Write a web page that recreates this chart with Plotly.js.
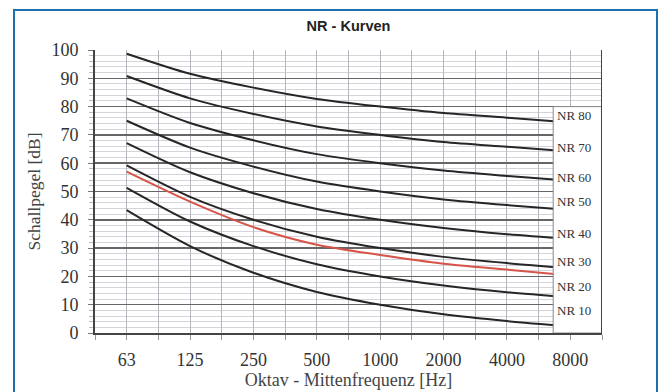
<!DOCTYPE html>
<html>
<head>
<meta charset="utf-8">
<script src="https://cdn.plot.ly/plotly-3.0.1.min.js"></script>
<style>html,body{margin:0;padding:0;background:#fff;}#chart{width:662px;height:392px;}</style>
</head>
<body>
<div id="chart"></div>
<script>
// Octave-band centre frequencies (Hz)
const freqLabels = ['63', '125', '250', '500', '1000', '2000', '4000', '8000'];
// NR curves (dB) at 63..8000 Hz
const nr10 = [43.4, 30.7, 21.3, 14.5, 10.0, 6.6, 4.2, 2.3];
const nr20 = [51.3, 39.4, 30.7, 24.3, 20.0, 16.8, 14.4, 12.6];
const nr30 = [59.2, 48.1, 40.0, 34.0, 30.0, 26.9, 24.7, 22.9];
const nr40 = [67.1, 56.8, 49.4, 43.8, 40.0, 37.1, 34.9, 33.2];
const nr50 = [75.0, 65.5, 58.8, 53.5, 50.0, 47.2, 45.2, 43.5];
const nr60 = [82.9, 74.2, 68.1, 63.2, 60.0, 57.4, 55.5, 53.8];
const nr70 = [90.8, 82.9, 77.4, 73.0, 70.0, 67.5, 65.8, 64.1];
const nr80 = [98.7, 91.6, 86.7, 82.7, 80.0, 77.7, 76.1, 74.4];
// Red (measured) curve
const redCurve = [57.0, 46.4, 37.4, 31.2, 27.6, 24.5, 22.4, 20.3];
const curveNames = ['NR 10', 'NR 20', 'NR 30', 'NR 40', 'NR 50', 'NR 60', 'NR 70', 'NR 80'];
const curves = [nr10, nr20, nr30, nr40, nr50, nr60, nr70, nr80];

const xIdx = freqLabels.map((_, i) => i);

const traces = curves.map((c, i) => ({
  x: xIdx, y: c, type: 'scatter', mode: 'lines', name: curveNames[i],
  line: {color: '#262626', width: 2, shape: 'spline', smoothing: 0.8},
  hoverinfo: 'skip', showlegend: false
}));
traces.push({
  x: xIdx, y: redCurve, type: 'scatter', mode: 'lines', name: 'Messung',
  line: {color: 'rgb(214,84,72)', width: 2, shape: 'spline', smoothing: 0.8},
  hoverinfo: 'skip', showlegend: false
});

// x grid every half octave
const xTickVals = [];
const xTickText = [];
for (let v = -0.5; v <= 7.5001; v += 0.5) {
  xTickVals.push(v);
  const k = Math.round(v);
  xTickText.push(Math.abs(v - k) < 1e-6 ? freqLabels[k] : '');
}

// label placement (layout only)
const labelPos = [7.8, 16.3, 25.4, 35.3, 46.3, 54.8, 65.7, 77.0];
const serif = '"Liberation Serif", "Times New Roman", serif';

const annotations = curveNames.map((n, i) => ({
  x: 6.76, y: labelPos[i], xref: 'x', yref: 'y', text: n, showarrow: false,
  xanchor: 'left', yanchor: 'middle',
  font: {family: serif, size: 13, color: '#333'}
}));

const layout = {
  width: 662, height: 392,
  margin: {l: 95, r: 60, t: 50, b: 59},
  paper_bgcolor: '#fff', plot_bgcolor: '#fff',
  title: {
    text: 'NR - Kurven', x: 0.5, xref: 'paper', y: 1, yref: 'container', yanchor: 'top', pad: {t: 21},
    font: {family: '"Liberation Sans", Arial, sans-serif', size: 14.5, color: '#222', weight: 'bold'}
  },
  xaxis: {
    range: [-0.5, 7.5], tickmode: 'array', tickvals: xTickVals, ticktext: xTickText,
    showgrid: true, gridcolor: '#b5b5bd', gridwidth: 1,
    zeroline: false, showline: true, linecolor: '#444', linewidth: 2,
    ticks: 'outside', ticklen: 5, tickcolor: '#999', tickwidth: 1,
    ticklabelstandoff: 4,
    tickfont: {family: serif, size: 18, color: '#333'},
    title: {text: 'Oktav - Mittenfrequenz [Hz]', standoff: 1, font: {family: serif, size: 18, color: '#444'}},
    fixedrange: true
  },
  yaxis: {
    range: [0, 100], dtick: 10, tick0: 0,
    showgrid: true, gridcolor: '#666', gridwidth: 1.5,
    minor: {dtick: 2, showgrid: true, gridcolor: '#d4d4da', gridwidth: 1, ticks: 'outside', ticklen: 4, tickcolor: '#bbb'},
    zeroline: false, showline: true, linecolor: '#444', linewidth: 2,
    ticks: 'outside', ticklen: 5, tickcolor: '#777',
    ticklabelstandoff: 6,
    tickfont: {family: serif, size: 18, color: '#333'},
    title: {text: 'Schallpegel [dB]', standoff: 6, font: {family: serif, size: 17.5, color: '#444'}},
    fixedrange: true
  },
  shapes: [
    // label box covering the ends of the curves
    {type: 'rect', xref: 'x', yref: 'y', x0: 6.73, x1: 7.5, y0: 0, y1: 80,
     fillcolor: '#fff', line: {color: '#888', width: 1}, layer: 'above'},
    // right border of plot
    {type: 'line', xref: 'x', yref: 'y', x0: 7.5, x1: 7.5, y0: 0, y1: 100,
     line: {color: '#444', width: 2}, layer: 'above'},
    // outer blue frame
    {type: 'rect', xref: 'paper', yref: 'paper',
     x0: (14 - 95) / 507, x1: (657 - 95) / 507, y0: (333 - 400) / 283, y1: (333 - 10) / 283,
     fillcolor: 'rgba(0,0,0,0)', line: {color: 'rgb(30,112,172)', width: 2}, layer: 'above'}
  ],
  annotations: annotations,
  showlegend: false,
  hovermode: false
};

Plotly.newPlot('chart', traces, layout, {displayModeBar: false, staticPlot: true});
</script>
</body>
</html>
